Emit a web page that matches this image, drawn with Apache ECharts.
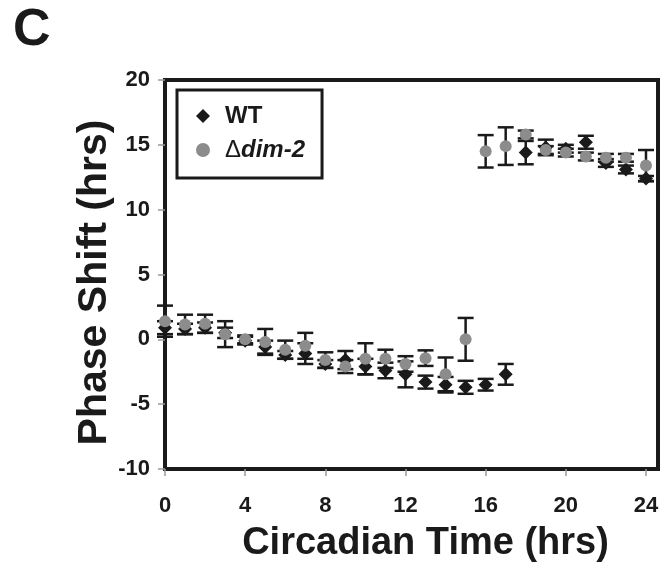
<!DOCTYPE html>
<html>
<head>
<meta charset="utf-8">
<script src="https://cdn.jsdelivr.net/npm/echarts@6/dist/echarts.min.js"></script>
<style>
  html, body { margin: 0; padding: 0; background: #fff; }
  #chart { width: 667px; height: 568px; }
</style>
</head>
<body>
<div id="chart"></div>
<script>
// circadian time of each pulse (hrs)
var circadianTimes = [0, 1, 2, 3, 4, 5, 6, 7, 8, 9, 10, 11, 12, 13, 14, 15, 16, 17, 18, 19, 20, 21, 22, 23, 24];

// WT phase shift and error
var wtShift = [0.9, 0.8, 0.9, 0.5, -0.1, -0.6, -1.2, -1.1, -1.9, -1.6, -2.1, -2.4, -2.7, -3.3, -3.5, -3.7, -3.5, -2.7, 14.4, 14.8, 14.7, 15.2, 13.6, 13.1, 12.4];
var wtErr   = [0.5, 0.4, 0.4, 0.4, 0.3, 0.5, 0.3, 0.8, 0.3, 0.7, 0.6, 0.6, 1.0, 0.5, 0.6, 0.5, 0.45, 0.8, 0.9, 0.6, 0.3, 0.5, 0.3, 0.3, 0.2];

// delta dim-2 phase shift and error
var dimShift = [1.4, 1.15, 1.2, 0.4, 0.0, -0.2, -0.8, -0.5, -1.6, -2.1, -1.5, -1.5, -1.9, -1.45, -2.7, 0.0, 14.5, 14.9, 15.8, 14.6, 14.4, 14.1, 14.0, 14.0, 13.4];
var dimErr   = [1.2, 0.75, 0.7, 1.0, 0.3, 1.0, 0.7, 1.0, 0.6, 0.5, 1.2, 0.7, 0.6, 0.6, 1.3, 1.65, 1.25, 1.45, 0.3, 0.3, 0.3, 0.3, 0.3, 0.3, 1.2];

var xTicks = [0, 4, 8, 12, 16, 20, 24];

var fontFamily = '"Liberation Sans", Arial, sans-serif';
var ink = '#1a1a1a';

function pairs(ys) {
    return circadianTimes.map(function (t, i) { return [t, ys[i]]; });
}
function errRows(ys, errs) {
    return circadianTimes.map(function (t, i) { return [t, ys[i] - errs[i], ys[i] + errs[i]]; });
}

// error bar with caps
function renderErr(params, api) {
    var x = api.value(0);
    var top = api.coord([x, api.value(2)]);
    var bot = api.coord([x, api.value(1)]);
    var w = 8;
    var style = { stroke: ink, lineWidth: 2.5 };
    return {
        type: 'group',
        children: [
            { type: 'line', shape: { x1: top[0], y1: top[1], x2: bot[0], y2: bot[1] }, style: style },
            { type: 'line', shape: { x1: top[0] - w, y1: top[1], x2: top[0] + w, y2: top[1] }, style: style },
            { type: 'line', shape: { x1: bot[0] - w, y1: bot[1], x2: bot[0] + w, y2: bot[1] }, style: style }
        ]
    };
}

var chart = echarts.init(document.getElementById('chart'));

var options = {
    animation: false,
    backgroundColor: '#fff',
    textStyle: { fontFamily: fontFamily },
    title: {
        text: 'C',
        left: 8,
        top: 0,
        textStyle: { fontSize: 52, fontWeight: 'bold', color: ink, fontFamily: fontFamily }
    },
    legend: {
        data: ['WT', 'Δdim-2'],
        orient: 'vertical',
        left: 177,
        top: 90,
        padding: [14, 17, 16, 19],
        itemGap: 10,
        itemWidth: 14,
        itemHeight: 14,
        borderColor: ink,
        borderWidth: 3,
        backgroundColor: '#fff',
        selectedMode: false,
        formatter: function (name) {
            return name === 'WT' ? '{b|WT}' : '{d|Δ}{i|dim-2}';
        },
        textStyle: {
            padding: [0, 0, 0, 10],
            rich: {
                b: { fontSize: 24, fontWeight: 'bold', color: ink, fontFamily: fontFamily, lineHeight: 26 },
                d: { fontSize: 24, color: ink, fontFamily: fontFamily, lineHeight: 26 },
                i: { fontSize: 24, fontWeight: 'bold', fontStyle: 'italic', color: ink, fontFamily: fontFamily, lineHeight: 26 }
            }
        }
    },
    grid: {
        left: 165,
        right: 9,
        top: 80,
        bottom: 95,
        show: true,
        borderColor: ink,
        borderWidth: 4
    },
    xAxis: {
        type: 'value',
        min: 0,
        max: 24.6,
        name: 'Circadian Time (hrs)',
        nameLocation: 'middle',
        nameGap: 56,
        nameMoveOverlap: false,
        nameTextStyle: { fontSize: 38, fontWeight: 'bold', color: ink, fontFamily: fontFamily, padding: [0, 0, 0, 28] },
        axisLine: { show: false, onZero: false },
        axisTick: { show: true, length: 7, customValues: xTicks, lineStyle: { color: '#999', width: 1.5 } },
        axisLabel: { customValues: xTicks, margin: 26, fontSize: 22, fontWeight: 'bold', color: ink, fontFamily: fontFamily },
        splitLine: { show: false }
    },
    yAxis: {
        type: 'value',
        min: -10,
        max: 20,
        interval: 5,
        name: 'Phase Shift (hrs)',
        nameLocation: 'middle',
        nameGap: 50,
        nameMoveOverlap: false,
        nameTextStyle: { fontSize: 41, fontWeight: 'bold', color: ink, fontFamily: fontFamily, padding: [0, 16, 0, 0] },
        axisLine: { show: false, onZero: false },
        axisTick: { show: true, length: 7, lineStyle: { color: '#999', width: 1.5 } },
        axisLabel: { margin: 15, fontSize: 22, fontWeight: 'bold', color: ink, fontFamily: fontFamily },
        splitLine: { show: false }
    },
    series: [
        {
            name: 'WT err',
            type: 'custom',
            renderItem: renderErr,
            encode: { x: 0, y: [1, 2] },
            data: errRows(wtShift, wtErr),
            z: 1
        },
        {
            name: 'Δdim-2 err',
            type: 'custom',
            renderItem: renderErr,
            encode: { x: 0, y: [1, 2] },
            data: errRows(dimShift, dimErr),
            z: 1
        },
        {
            name: 'WT',
            type: 'scatter',
            symbol: 'diamond',
            symbolSize: 14,
            itemStyle: { color: ink, opacity: 1 },
            data: pairs(wtShift),
            z: 2
        },
        {
            name: 'Δdim-2',
            type: 'scatter',
            symbol: 'circle',
            symbolSize: 12,
            itemStyle: { color: '#8c8c8c', opacity: 1 },
            data: pairs(dimShift),
            z: 3
        }
    ]
};

options && chart.setOption(options);
</script>
</body>
</html>
